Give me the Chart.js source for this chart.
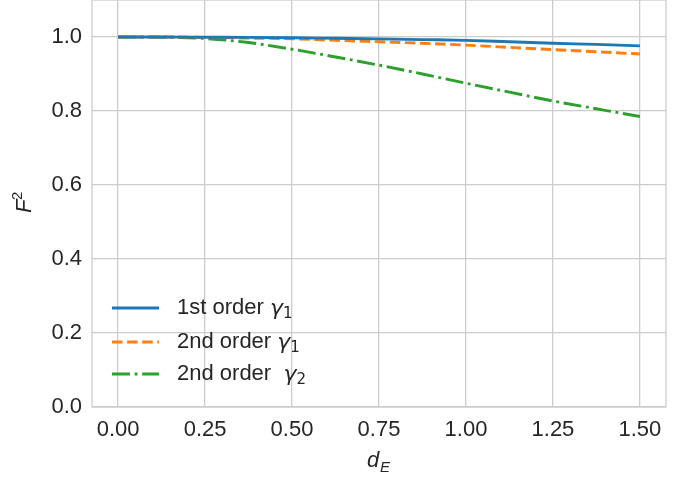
<!DOCTYPE html>
<html>
<head>
<meta charset="utf-8">
<script src="https://cdn.jsdelivr.net/npm/chart.js@4.4.0/dist/chart.umd.min.js"></script>
<style>
    html, body { margin: 0; padding: 0; background: #ffffff; }
    #wrap { width: 685px; height: 478px; }
</style>
</head>
<body>
<div id="wrap"><canvas id="fidelityChart" width="685" height="478"></canvas></div>
<script>
// values
const dE = [0, 0.125, 0.25, 0.375, 0.5, 0.625, 0.75, 0.875, 1.0, 1.125, 1.25, 1.375, 1.5];
const firstOrderG1 = [1.0, 1.0, 0.9995, 0.999, 0.998, 0.9965, 0.995, 0.993, 0.991, 0.987, 0.983, 0.980, 0.976];
const secondOrderG1 = [1.0, 1.0, 0.999, 0.997, 0.995, 0.991, 0.987, 0.983, 0.978, 0.972, 0.966, 0.960, 0.954];
const secondOrderG2 = [1.0, 0.9995, 0.996, 0.985, 0.967, 0.946, 0.924, 0.900, 0.875, 0.851, 0.827, 0.806, 0.785];

const seriesLabels = ['1st order ', '2nd order ', '2nd order  '];
const seriesSubs = ['1', '1', '2'];

const xTicks = [0, 0.25, 0.5, 0.75, 1.0, 1.25, 1.5];
const yTicks = [0, 0.2, 0.4, 0.6, 0.8, 1.0];

const FONT = '"Liberation Sans", Arial, sans-serif';
const MATH = '"DejaVu Sans", sans-serif';
const TEXT = '#262626';
const GRID = '#cccccc';

const toPoints = ys => dE.map((x, i) => ({ x: x, y: ys[i] }));

// frame, axis titles and legend
const decorations = {
    id: 'decorations',
    afterDraw(chart) {
        const ctx = chart.ctx;
        const a = chart.chartArea;
        ctx.save();

        ctx.strokeStyle = GRID;
        ctx.lineWidth = 1.3;
        ctx.strokeRect(a.left, a.top, a.right - a.left, a.bottom - a.top);

        ctx.fillStyle = TEXT;
        ctx.textBaseline = 'alphabetic';

        // x title: d_E
        ctx.font = 'italic 22px ' + FONT;
        ctx.textAlign = 'left';
        ctx.fillText('d', 367, 467);
        ctx.font = 'italic 15px ' + FONT;
        ctx.fillText('E', 380, 472);

        // y title: F^2
        ctx.save();
        ctx.translate(31, 203);
        ctx.rotate(-Math.PI / 2);
        ctx.font = 'italic 22px ' + FONT;
        ctx.textAlign = 'left';
        ctx.fillText('F', -10, 0);
        ctx.font = '15px ' + FONT;
        ctx.fillText('2', 3, -9);
        ctx.restore();

        // legend
        const rows = [308, 342, 374];
        chart.data.datasets.forEach((ds, i) => {
            const y = rows[i];
            ctx.save();
            ctx.strokeStyle = ds.borderColor;
            ctx.lineWidth = ds.borderWidth;
            ctx.setLineDash(ds.borderDash || []);
            ctx.beginPath();
            ctx.moveTo(112, y);
            ctx.lineTo(159, y);
            ctx.stroke();
            ctx.restore();

            ctx.textBaseline = 'middle';
            ctx.textAlign = 'left';
            ctx.font = '22px ' + FONT;
            const x0 = 177;
            ctx.fillText(seriesLabels[i], x0, y);
            let w = ctx.measureText(seriesLabels[i]).width;
            ctx.font = 'italic 22px ' + MATH;
            ctx.fillText('\u03b3', x0 + w, y + 1);
            w += ctx.measureText('\u03b3').width;
            ctx.font = '15px ' + MATH;
            ctx.fillText(seriesSubs[i], x0 + w, y + 6);
        });

        ctx.restore();
    }
};

new Chart(document.getElementById('fidelityChart'), {
    type: 'line',
    data: {
        datasets: [
            {
                label: '1st order γ1',
                data: toPoints(firstOrderG1),
                borderColor: '#1f77b4',
                borderWidth: 2.9,
                pointRadius: 0,
                cubicInterpolationMode: 'monotone'
            },
            {
                label: '2nd order γ1',
                data: toPoints(secondOrderG1),
                borderColor: '#ff7f0e',
                borderWidth: 2.9,
                borderDash: [10.5, 4.6],
                pointRadius: 0,
                cubicInterpolationMode: 'monotone'
            },
            {
                label: '2nd order γ2',
                data: toPoints(secondOrderG2),
                borderColor: '#2ca02c',
                borderWidth: 2.9,
                borderDash: [18, 4.6, 2.9, 4.6],
                pointRadius: 0,
                cubicInterpolationMode: 'monotone'
            }
        ]
    },
    options: {
        responsive: false,
        animation: false,
        devicePixelRatio: 1,
        layout: { padding: { left: 0, right: 19, top: 0, bottom: 0 } },
        plugins: {
            legend: { display: false },
            tooltip: { enabled: false }
        },
        scales: {
            x: {
                type: 'linear',
                min: -0.075,
                max: 1.575,
                afterBuildTicks: s => { s.ticks = xTicks.map(v => ({ value: v })); },
                afterFit: s => { s.height = 71; s.paddingLeft = 0; s.paddingRight = 0; },
                ticks: {
                    callback: v => v.toFixed(2),
                    font: { family: FONT, size: 22 },
                    color: TEXT,
                    padding: 10,
                    maxRotation: 0
                },
                grid: { color: GRID, lineWidth: 1.3, drawTicks: false },
                border: { display: false }
            },
            y: {
                min: 0,
                max: 1.1,
                afterBuildTicks: s => { s.ticks = yTicks.map(v => ({ value: v })); },
                afterFit: s => { s.width = 92; s.paddingTop = 0; s.paddingBottom = 0; },
                ticks: {
                    callback: v => v.toFixed(1),
                    font: { family: FONT, size: 22 },
                    color: TEXT,
                    padding: 10
                },
                grid: { color: GRID, lineWidth: 1.3, drawTicks: false },
                border: { display: false }
            }
        }
    },
    plugins: [decorations]
});
</script>
</body>
</html>
